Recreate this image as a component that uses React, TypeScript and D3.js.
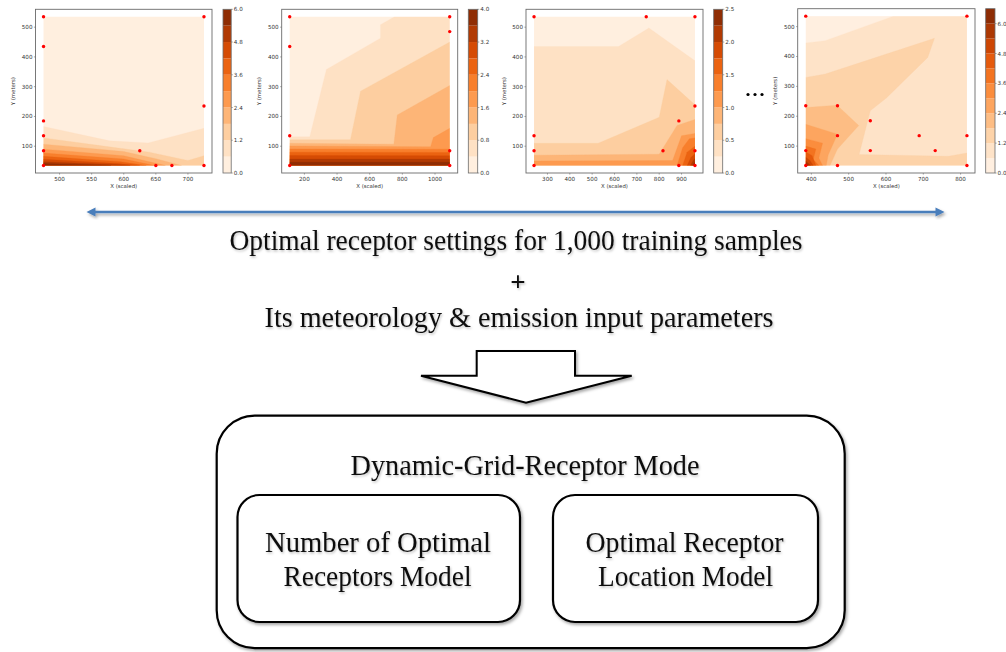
import React from "react";
import * as d3 from "d3";

type Pt = [number, number];

// ---------- Panel 1 ----------
const p1XTicks = [500, 550, 600, 650, 700];
const p1Levels = [0, 0.6, 1.2, 1.8, 2.4, 3.0, 3.6, 4.2, 4.8, 5.4, 6.0];
const p1CbTicks = [0, 1.2, 2.4, 3.6, 4.8, 6.0];
const p1Points: Pt[] = [
  [475, 535], [475, 435], [475, 185], [475, 135], [475, 85], [475, 35],
  [625, 85], [650, 35], [675, 35], [725, 35], [725, 235], [725, 535],
];
const p1Regions: Pt[][] = [
  [[475, 35], [475, 166], [578, 118], [638, 111], [725, 160], [725, 35]],
  [[475, 35], [475, 128], [560, 103], [640, 80], [700, 52], [725, 68], [725, 35]],
  [[475, 35], [475, 107], [600, 82], [650, 58], [690, 35]],
  [[475, 35], [475, 90], [600, 68], [665, 35]],
  [[475, 35], [475, 77], [600, 57], [648, 35]],
  [[475, 35], [475, 66], [595, 48], [635, 35]],
  [[475, 35], [475, 56], [590, 42], [625, 35]],
  [[475, 35], [475, 48], [590, 38], [610, 35]],
  [[475, 35], [475, 42], [580, 35]],
];

// ---------- Panel 2 ----------
const p2XTicks = [200, 400, 600, 800, 1000];
const p2Levels = [0, 0.4, 0.8, 1.2, 1.6, 2.0, 2.4, 2.8, 3.2, 3.6, 4.0];
const p2CbTicks = [0, 0.8, 1.6, 2.4, 3.2, 4.0];
const p2Points: Pt[] = [
  [110, 535], [110, 435], [110, 135], [110, 35],
  [1090, 535], [1090, 485], [1090, 85], [1090, 35],
];
const p2Regions: Pt[][] = [
  [[110, 35], [110, 132], [233, 132], [335, 358], [666, 463], [666, 508], [752, 535], [1090, 535], [1090, 35]],
  [[110, 35], [110, 122], [482, 122], [544, 285], [1090, 450], [1090, 35]],
  [[110, 35], [110, 110], [748, 107], [769, 205], [1090, 304], [1090, 35]],
  [[110, 35], [110, 101], [973, 98], [990, 129], [1090, 160], [1090, 35]],
  [[110, 35], [110, 91], [1090, 90], [1090, 35]],
  [[110, 35], [110, 80], [1090, 79], [1090, 35]],
  [[110, 35], [110, 69], [1090, 68], [1090, 35]],
  [[110, 35], [110, 57], [1090, 57], [1090, 35]],
  [[110, 35], [110, 46], [1090, 46], [1090, 35]],
];

// ---------- Panel 3 ----------
const p3XTicks = [300, 400, 500, 600, 700, 800, 900];
const p3Levels = [0, 0.25, 0.5, 0.75, 1.0, 1.25, 1.5, 1.75, 2.0, 2.25, 2.5];
const p3CbTicks = [0, 0.5, 1.0, 1.5, 2.0, 2.5];
const p3Points: Pt[] = [
  [240, 535], [742, 535], [960, 535], [960, 235], [888, 185], [240, 135],
  [240, 85], [817, 85], [960, 85], [240, 35], [888, 35], [960, 35],
];
const p3Regions: Pt[][] = [
  [[240, 35], [240, 435], [618, 435], [754, 497], [960, 387], [960, 35]],
  [[240, 35], [240, 110], [527, 110], [800, 197], [835, 324], [960, 239], [960, 35]],
  [[240, 35], [240, 70], [800, 73], [880, 170], [960, 190], [960, 35]],
  [[240, 35], [240, 50], [860, 52], [900, 135], [960, 143], [960, 35]],
  [[880, 35], [905, 95], [935, 125], [960, 128], [960, 35]],
  [[905, 35], [925, 80], [960, 100], [960, 35]],
  [[925, 35], [942, 62], [960, 75], [960, 35]],
  [[940, 35], [952, 52], [960, 58], [960, 35]],
  [[950, 35], [960, 46], [960, 35]],
];

// ---------- Panel 4 ----------
const p4XTicks = [400, 500, 600, 700, 800];
const p4Levels = [0, 0.6, 1.2, 1.8, 2.4, 3.0, 3.6, 4.2, 4.8, 5.4, 6.0, 6.6];
const p4CbTicks = [0, 1.2, 2.4, 3.6, 4.8, 6.0];
const p4Points: Pt[] = [
  [385, 535], [817, 535], [385, 235], [470, 235], [558, 185], [470, 135],
  [689, 135], [817, 135], [385, 85], [558, 85], [732, 85], [385, 35],
  [470, 35], [817, 35],
];
const p4Regions: Pt[][] = [
  [[385, 35], [385, 445], [437, 453], [620, 535], [817, 535], [817, 35]],
  [[385, 35], [385, 330], [437, 341], [730, 461], [712, 397], [602, 262], [558, 218], [528, 72], [767, 66], [817, 77], [817, 35]],
  [[385, 35], [385, 229], [469, 237], [527, 169], [470, 90], [450, 35]],
  [[385, 35], [385, 173], [470, 140], [445, 70], [440, 35]],
  [[385, 35], [385, 125], [430, 110], [420, 60], [430, 35]],
  [[385, 35], [385, 100], [412, 90], [405, 55], [420, 35]],
  [[385, 35], [385, 80], [402, 68], [412, 35]],
  [[385, 35], [385, 63], [396, 52], [405, 35]],
  [[385, 35], [385, 50], [398, 35]],
  [[385, 35], [385, 42], [391, 35]],
];

const yTicks = [100, 200, 300, 400, 500];

// ---------- Text ----------
const line1 = "Optimal receptor settings for 1,000 training samples";
const plusText = "+";
const line2 = "Its meteorology & emission input parameters";
const modeTitle = "Dynamic-Grid-Receptor Mode";
const box1Lines = ["Number of  Optimal", "Receptors Model"];
const box2Lines = ["Optimal Receptor", "Location Model"];

type Frame = { left: number; right: number; top: number; bottom: number; cbX: number; cbW: number };

const panels = [
  { xTicks: p1XTicks, levels: p1Levels, cbTicks: p1CbTicks, points: p1Points, regions: p1Regions,
    frame: { left: 35.5, right: 212, top: 9.3, bottom: 173, cbX: 223, cbW: 8.2 } as Frame },
  { xTicks: p2XTicks, levels: p2Levels, cbTicks: p2CbTicks, points: p2Points, regions: p2Regions,
    frame: { left: 281.7, right: 457.7, top: 9.3, bottom: 173, cbX: 468.3, cbW: 9.4 } as Frame },
  { xTicks: p3XTicks, levels: p3Levels, cbTicks: p3CbTicks, points: p3Points, regions: p3Regions,
    frame: { left: 526, right: 703, top: 9.3, bottom: 173, cbX: 713.7, cbW: 9 } as Frame },
  { xTicks: p4XTicks, levels: p4Levels, cbTicks: p4CbTicks, points: p4Points, regions: p4Regions,
    frame: { left: 797.7, right: 975, top: 8.7, bottom: 173, cbX: 985.7, cbW: 9.3 } as Frame },
];

const tickFont = "DejaVu Sans, sans-serif";
const axisColor = "#6b6b6b";

function Panel({ cfg }: { cfg: (typeof panels)[number] }) {
  const f = cfg.frame;
  const [x0, x1] = d3.extent(cfg.points, (d) => d[0]) as [number, number];
  const [y0, y1] = d3.extent(cfg.points, (d) => d[1]) as [number, number];
  const px = (x1 - x0) * 0.05;
  const py = (y1 - y0) * 0.05;
  const x = d3.scaleLinear().domain([x0 - px, x1 + px]).range([f.left, f.right]);
  const y = d3.scaleLinear().domain([y0 - py, y1 + py]).range([f.bottom, f.top]);
  const n = cfg.levels.length - 1;
  const color = (i: number) => d3.interpolateOranges((i + 0.5) / n);
  const line = d3.line<Pt>().x((d) => x(d[0])).y((d) => y(d[1]));
  const cbY = d3.scaleLinear().domain([cfg.levels[0], cfg.levels[n]]).range([f.bottom, f.top]);
  const fmt = d3.format(".1f");
  const clipId = `clip-${f.left}`.replace(".", "_");
  return (
    <g>
      <defs>
        <clipPath id={clipId}>
          <rect x={x(x0)} y={y(y1)} width={x(x1) - x(x0)} height={y(y0) - y(y1)} />
        </clipPath>
      </defs>
      <rect x={x(x0)} y={y(y1)} width={x(x1) - x(x0)} height={y(y0) - y(y1)} fill={color(0)} />
      <g clipPath={`url(#${clipId})`}>
        {cfg.regions.map((poly, k) => (
          <path key={k} d={(line(poly) || "") + "Z"} fill={color(k + 1)} stroke={color(k + 1)} strokeWidth={0.3} />
        ))}
      </g>
      {cfg.points.map((p, i) => (
        <circle key={i} cx={x(p[0])} cy={y(p[1])} r={1.7} fill="#ff0000" />
      ))}
      <rect x={f.left} y={f.top} width={f.right - f.left} height={f.bottom - f.top} fill="none" stroke={axisColor} strokeWidth={0.9} />
      {cfg.xTicks.map((t) => (
        <g key={t}>
          <line x1={x(t)} x2={x(t)} y1={f.bottom} y2={f.bottom + 1.6} stroke={axisColor} strokeWidth={0.6} />
          <text x={x(t)} y={f.bottom + 8.2} fontSize={5.6} fontFamily={tickFont} fill="#333" textAnchor="middle">{t}</text>
        </g>
      ))}
      {yTicks.map((t) => (
        <g key={t}>
          <line x1={f.left - 1.6} x2={f.left} y1={y(t)} y2={y(t)} stroke={axisColor} strokeWidth={0.6} />
          <text x={f.left - 3} y={y(t) + 2} fontSize={5.6} fontFamily={tickFont} fill="#333" textAnchor="end">{t}</text>
        </g>
      ))}
      <text x={(f.left + f.right) / 2} y={f.bottom + 15} fontSize={5.4} fontFamily={tickFont} fill="#333" textAnchor="middle">X (scaled)</text>
      <text transform={`translate(${f.left - 20.5},${(f.top + f.bottom) / 2}) rotate(-90)`} fontSize={5.4} fontFamily={tickFont} fill="#333" textAnchor="middle">Y (meters)</text>
      {/* colorbar */}
      {d3.range(n).map((i) => (
        <rect key={i} x={f.cbX} y={cbY(cfg.levels[i + 1])} width={f.cbW} height={cbY(cfg.levels[i]) - cbY(cfg.levels[i + 1])} fill={color(i)} />
      ))}
      <rect x={f.cbX} y={f.top} width={f.cbW} height={f.bottom - f.top} fill="none" stroke={axisColor} strokeWidth={0.8} />
      {cfg.cbTicks.map((t) => (
        <g key={t}>
          <line x1={f.cbX + f.cbW} x2={f.cbX + f.cbW + 1.6} y1={cbY(t)} y2={cbY(t)} stroke={axisColor} strokeWidth={0.6} />
          <text x={f.cbX + f.cbW + 2.6} y={cbY(t) + 2} fontSize={5.6} fontFamily={tickFont} fill="#333">{fmt(t)}</text>
        </g>
      ))}
    </g>
  );
}

const serif = "'Liberation Serif', 'DejaVu Serif', serif";

export default function App() {
  const blue = "#4a7ebb";
  return (
    <svg width={1006} height={652} style={{ position: "absolute", left: 0, top: 0, background: "#fff" }}>
      <defs>
        <filter id="shadow" x="-10%" y="-10%" width="130%" height="140%">
          <feDropShadow dx={1.5} dy={2} stdDeviation={1.5} floodColor="#000" floodOpacity={0.35} />
        </filter>
        <filter id="tshadow" x="-5%" y="-20%" width="110%" height="150%">
          <feDropShadow dx={1} dy={1.5} stdDeviation={1} floodColor="#000" floodOpacity={0.25} />
        </filter>
      </defs>
      <rect x={0} y={0} width={1006} height={652} fill="#fff" />
      {panels.map((p, i) => (
        <Panel key={i} cfg={p} />
      ))}
      {/* ellipsis */}
      {[748, 755, 762].map((cx) => (
        <circle key={cx} cx={cx} cy={94.5} r={1.6} fill="#000" />
      ))}
      {/* blue double arrow */}
      <g filter="url(#shadow)">
        <line x1={94} x2={937} y1={212} y2={212} stroke={blue} strokeWidth={2.4} />
        <path d="M86.5,212 L95.5,207.6 L95.5,216.4 Z" fill={blue} />
        <path d="M944.5,212 L935.5,207.6 L935.5,216.4 Z" fill={blue} />
      </g>
      <g fontFamily={serif} fill="#111" filter="url(#tshadow)">
        <text x={516} y={250} fontSize={30} textAnchor="middle" textLength={573} lengthAdjust="spacingAndGlyphs">{line1}</text>
        <text x={518} y={291} fontSize={27} fontWeight="bold" textAnchor="middle">{plusText}</text>
        <text x={519} y={327} fontSize={30} textAnchor="middle" textLength={509} lengthAdjust="spacingAndGlyphs">{line2}</text>
      </g>
      {/* hollow down arrow */}
      <path
        d="M476.7,351 L575,351 L575,375.7 L631.7,375.7 L526,402.7 L421,375.7 L476.7,375.7 Z"
        fill="#fff" stroke="#000" strokeWidth={2} strokeLinejoin="miter" filter="url(#shadow)"
      />
      {/* boxes */}
      <rect x={216.7} y={415.7} width={628} height={232.5} rx={38} ry={38} fill="#fff" stroke="#000" strokeWidth={2.2} filter="url(#shadow)" />
      <rect x={237.5} y={495} width={282.5} height={127} rx={22} ry={22} fill="#fff" stroke="#000" strokeWidth={2.2} filter="url(#shadow)" />
      <rect x={553} y={495} width={265} height={127} rx={22} ry={22} fill="#fff" stroke="#000" strokeWidth={2.2} filter="url(#shadow)" />
      <g fontFamily={serif} fill="#111" filter="url(#tshadow)" style={{ whiteSpace: "pre" }}>
        <text x={525} y={475} fontSize={30} textAnchor="middle" textLength={349} lengthAdjust="spacingAndGlyphs">{modeTitle}</text>
        <text x={378} y={552} fontSize={29} textAnchor="middle" textLength={226} lengthAdjust="spacingAndGlyphs">{box1Lines[0]}</text>
        <text x={377.5} y={586} fontSize={29} textAnchor="middle" textLength={188} lengthAdjust="spacingAndGlyphs">{box1Lines[1]}</text>
        <text x={684.5} y={552} fontSize={29} textAnchor="middle" textLength={198} lengthAdjust="spacingAndGlyphs">{box2Lines[0]}</text>
        <text x={685.5} y={586} fontSize={29} textAnchor="middle" textLength={175} lengthAdjust="spacingAndGlyphs">{box2Lines[1]}</text>
      </g>
    </svg>
  );
}
